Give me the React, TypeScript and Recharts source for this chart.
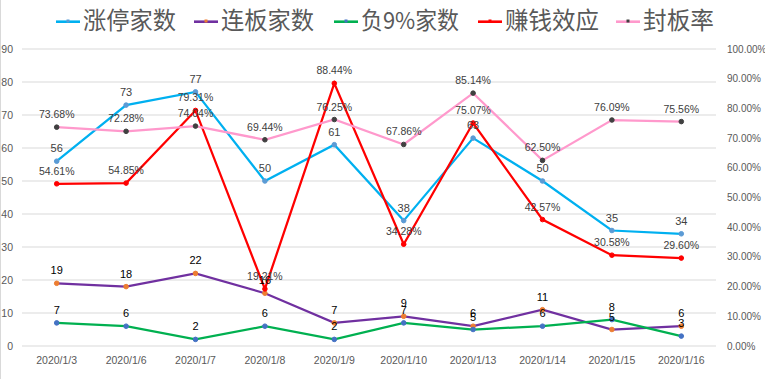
import React from 'react';
import { LineChart, Line, XAxis, YAxis, CartesianGrid, LabelList } from 'recharts';

const dates = ['2020/1/3', '2020/1/6', '2020/1/7', '2020/1/8', '2020/1/9', '2020/1/10', '2020/1/13', '2020/1/14', '2020/1/15', '2020/1/16'];
const limitUp = [56, 73, 77, 50, 61, 38, 63, 50, 35, 34];
const consecutive = [19, 18, 22, 16, 7, 9, 6, 11, 5, 6];
const down9 = [7, 6, 2, 6, 2, 7, 5, 6, 8, 3];
const profitEffect = [0.5461, 0.5485, 0.7931, 0.1921, 0.8844, 0.3428, 0.7507, 0.4257, 0.3058, 0.296];
const sealRate = [0.7368, 0.7228, 0.7404, 0.6944, 0.7625, 0.6786, 0.8514, 0.625, 0.7609, 0.7556];
const leftTicks = [0, 10, 20, 30, 40, 50, 60, 70, 80, 90];
const rightTicks = [0, 0.1, 0.2, 0.3, 0.4, 0.5, 0.6, 0.7, 0.8, 0.9, 1];

const data = dates.map((d, i) => ({
  date: d,
  limitUp: limitUp[i],
  consecutive: consecutive[i],
  down9: down9[i],
  profitEffect: profitEffect[i],
  sealRate: sealRate[i],
}));

const series = [
  { key: 'limitUp', name: '涨停家数', color: '#00B0F0', marker: '#5B9BD5', axis: 'left', labelColor: '#404040' },
  { key: 'consecutive', name: '连板家数', color: '#7030A0', marker: '#ED7D31', axis: 'left', labelColor: '#000000' },
  { key: 'down9', name: '负9%家数', color: '#00B050', marker: '#4472C4', axis: 'left', labelColor: '#000000' },
  { key: 'profitEffect', name: '赚钱效应', color: '#FF0000', marker: '#FF0000', axis: 'right', labelColor: '#404040' },
  { key: 'sealRate', name: '封板率', color: '#FF99CC', marker: '#404040', axis: 'right', labelColor: '#404040' },
];

// legend layout (icon left edge, text width)
const legendLayout = [
  { x: 55, w: 93 },
  { x: 193, w: 93 },
  { x: 333, w: 98 },
  { x: 477, w: 94 },
  { x: 615, w: 71 },
];

const FONT = '"Liberation Sans", Arial, sans-serif';
const pct = (v: number) => (v * 100).toFixed(2) + '%';

const Legend = () => (
  <svg width={765} height={40} style={{ position: 'absolute', left: 0, top: 0, zIndex: 2 }}>
    {series.map((s, i) => {
      const { x, w } = legendLayout[i];
      return (
        <g key={s.key}>
          <line x1={x} y1={21.7} x2={x + 24} y2={21.7} stroke={s.color} strokeWidth={2.6} />
          <rect x={x + 10.5} y={19.5} width={3} height={3} fill={s.marker} />
          <text
            x={x + 27}
            y={29}
            fontSize={23.5}
            fill="#595959"
            fontFamily='"Noto Sans CJK SC", sans-serif'
            textLength={w}
            lengthAdjust="spacingAndGlyphs"
          >
            {s.name}
          </text>
        </g>
      );
    })}
  </svg>
);

export default function App() {
  return (
    <div
      style={{
        position: 'absolute',
        left: 0,
        top: 0,
        width: 765,
        height: 379,
        background: '#fff',
        borderLeft: '1px solid #D9D9D9',
        boxSizing: 'border-box',
      }}
    >
      <Legend />
      <LineChart width={764} height={379} data={data} margin={{ top: 49, right: 0, bottom: 0, left: 0 }}>
        <CartesianGrid yAxisId="left" vertical={false} stroke="#D9D9D9" strokeWidth={1} />
        <XAxis
          dataKey="date"
          tickLine={false}
          axisLine={false}
          height={33}
          tickSize={0}
          tickMargin={11}
          padding={{ left: 34.7, right: 34.7 }}
          tick={{ fontSize: 10.5, fill: '#595959', fontFamily: FONT }}
          interval={0}
        />
        <YAxis
          yAxisId="left"
          domain={[0, 90]}
          ticks={leftTicks}
          width={21}
          tickLine={false}
          axisLine={false}
          tickSize={0}
          tickMargin={9}
          tick={{ fontSize: 10.5, fill: '#595959', fontFamily: FONT }}
          interval={0}
        />
        <YAxis
          yAxisId="right"
          orientation="right"
          domain={[0, 1]}
          ticks={rightTicks}
          width={49}
          tickLine={false}
          axisLine={false}
          tickSize={0}
          tickMargin={11}
          tickFormatter={pct}
          tick={{ fontSize: 10, fill: '#595959', fontFamily: FONT }}
          interval={0}
        />
        {series.map((s) => (
          <Line
            key={s.key}
            yAxisId={s.axis}
            dataKey={s.key}
            name={s.name}
            stroke={s.color}
            strokeWidth={2.25}
            isAnimationActive={false}
            dot={{ r: 2.3, fill: s.marker, stroke: s.marker, strokeWidth: 1 }}
            activeDot={false}
          >
            <LabelList
              dataKey={s.key}
              position="top"
              offset={9}
              formatter={s.axis === 'right' ? (v: any) => pct(Number(v)) : undefined}
              style={{ fontSize: s.axis === 'right' ? 10.5 : 11, fill: s.labelColor, fontFamily: FONT }}
            />
          </Line>
        ))}
      </LineChart>
    </div>
  );
}
